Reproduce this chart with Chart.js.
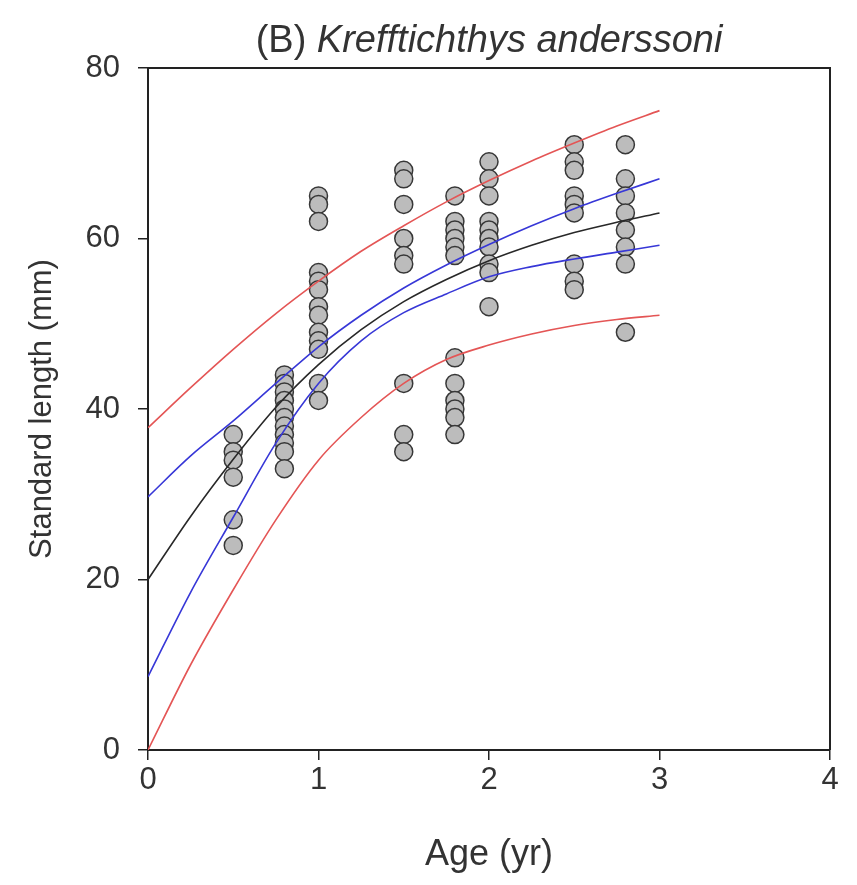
<!DOCTYPE html>
<html>
<head>
<meta charset="utf-8">
<script src="https://cdn.jsdelivr.net/npm/chart.js@4.4.1/dist/chart.umd.min.js"></script>
<style>
  body { margin: 0; background: #fff; }
  #growthChart { display: block; }
</style>
</head>
<body>
<canvas id="growthChart" width="857" height="885"></canvas>
<script>
// observed standard length (mm) by age class
const ages = [0.5, 0.8, 1.0, 1.5, 1.8, 2.0, 2.5, 2.8];
const lenAge05 = [37, 35, 34, 32, 27, 24];
const lenAge08 = [44, 43, 42, 41, 40, 39, 38, 37, 36, 35, 33];
const lenAge10 = [65, 64, 62, 56, 55, 54, 52, 51, 49, 48, 47, 43, 41];
const lenAge15 = [68, 67, 64, 60, 58, 57, 43, 37, 35];
const lenAge18 = [65, 62, 61, 60, 59, 58, 46, 43, 41, 40, 39, 37];
const lenAge20 = [69, 67, 65, 62, 61, 60, 59, 57, 56, 52];
const lenAge25 = [71, 69, 68, 65, 64, 63, 57, 55, 54];
const lenAge28 = [71, 67, 65, 63, 61, 59, 57, 49];
const lengthsByAge = [lenAge05, lenAge08, lenAge10, lenAge15, lenAge18, lenAge20, lenAge25, lenAge28];

// fitted curves
const curveAge  = [0, 0.25, 0.5, 0.75, 1.0, 1.25, 1.5, 1.75, 2.0, 2.25, 2.5, 2.75, 3.0];
const meanFit   = [20, 27.4, 34.1, 40.2, 45.2, 49.3, 52.6, 55.2, 57.4, 59.2, 60.7, 61.9, 63];
const upperCI   = [29.7, 34.5, 38.6, 43.0, 47.3, 51.0, 54.2, 56.9, 59.3, 61.5, 63.5, 65.3, 67];
const lowerCI   = [8.6, 18.5, 27.3, 36.0, 43.0, 48.0, 51.3, 53.5, 55.5, 56.7, 57.6, 58.4, 59.2];
const upperPI   = [37.8, 42.5, 47.0, 51.2, 55.0, 58.5, 61.5, 64.3, 66.8, 69.1, 71.2, 73.2, 75];
const lowerPI   = [0, 10, 18.8, 27, 34, 39, 43, 45.8, 47.5, 48.8, 49.8, 50.5, 51];

const xTicks = [0, 1, 2, 3, 4];
const yTicks = [0, 20, 40, 60, 80];

const textColor = '#333';
const fontFamily = 'Arial, "Liberation Sans", sans-serif';

const observed = [];
ages.forEach((a, i) => lengthsByAge[i].forEach(v => observed.push({ x: a, y: v })));

const toPts = arr => curveAge.map((a, i) => ({ x: a, y: arr[i] }));

// lines get a lower order so they are drawn over the circles
function curve(arr, color) {
    return {
        type: 'line',
        data: toPts(arr),
        borderColor: color,
        borderWidth: 1.6,
        pointRadius: 0,
        fill: false,
        order: 0,
        cubicInterpolationMode: 'monotone'
    };
}

const titlePlugin = {
    id: 'figTitle',
    afterDraw(chart) {
        const ctx = chart.ctx;
        const area = chart.chartArea;
        ctx.save();
        ctx.fillStyle = textColor;
        ctx.textBaseline = 'alphabetic';
        const plain = '(B) ';
        const ital = 'Krefftichthys anderssoni';
        ctx.font = '38px ' + fontFamily;
        const w1 = ctx.measureText(plain).width;
        ctx.font = 'italic 38px ' + fontFamily;
        const w2 = ctx.measureText(ital).width;
        const start = (area.left + area.right) / 2 - (w1 + w2) / 2;
        ctx.font = '38px ' + fontFamily;
        ctx.fillText(plain, start, 52);
        ctx.font = 'italic 38px ' + fontFamily;
        ctx.fillText(ital, start + w1, 52);
        // frame on top and right
        ctx.strokeStyle = '#222';
        ctx.lineWidth = 2;
        ctx.beginPath();
        ctx.moveTo(area.left, area.top);
        ctx.lineTo(area.right, area.top);
        ctx.lineTo(area.right, area.bottom);
        ctx.stroke();
        ctx.restore();
    }
};

new Chart(document.getElementById('growthChart'), {
    type: 'scatter',
    data: {
        datasets: [
            curve(upperPI, 'rgb(228, 85, 85)'),
            curve(lowerPI, 'rgb(228, 85, 85)'),
            curve(upperCI, 'rgb(55, 55, 215)'),
            curve(lowerCI, 'rgb(55, 55, 215)'),
            curve(meanFit, 'rgb(40, 40, 40)'),
            {
                data: observed,
                order: 10,
                pointRadius: 9,
                pointBorderWidth: 1.5,
                pointBackgroundColor: 'rgb(188, 188, 188)',
                pointBorderColor: 'rgb(55, 55, 55)'
            }
        ]
    },
    options: {
        responsive: false,
        animation: false,
        layout: { padding: { top: 68, right: 27, left: 0, bottom: 0 } },
        plugins: {
            legend: { display: false },
            tooltip: { enabled: false }
        },
        scales: {
            x: {
                type: 'linear',
                min: 0,
                max: 4,
                afterBuildTicks: s => { s.ticks = xTicks.map(v => ({ value: v })); },
                afterFit: s => { s.height = 135; },
                ticks: { color: textColor, font: { size: 31, family: fontFamily }, padding: 2 },
                grid: { display: true, drawOnChartArea: false, drawTicks: true, tickLength: 10, color: '#222', lineWidth: 1.5 },
                border: { display: true, color: '#222', width: 2 },
                title: { display: true, text: 'Age (yr)', color: textColor, font: { size: 36, family: fontFamily }, padding: { top: 0, bottom: 8 } }
            },
            y: {
                type: 'linear',
                min: 0,
                max: 80,
                afterBuildTicks: s => { s.ticks = yTicks.map(v => ({ value: v })); },
                afterFit: s => { s.width = 148; },
                ticks: { color: textColor, font: { size: 31, family: fontFamily }, padding: 18 },
                grid: { display: true, drawOnChartArea: false, drawTicks: true, tickLength: 10, color: '#222', lineWidth: 1.5 },
                border: { display: true, color: '#222', width: 2 },
                title: { display: true, text: 'Standard length (mm)', color: textColor, font: { size: 31, family: fontFamily }, padding: { top: 24, bottom: 10 } }
            }
        }
    },
    plugins: [titlePlugin]
});
</script>
</body>
</html>
